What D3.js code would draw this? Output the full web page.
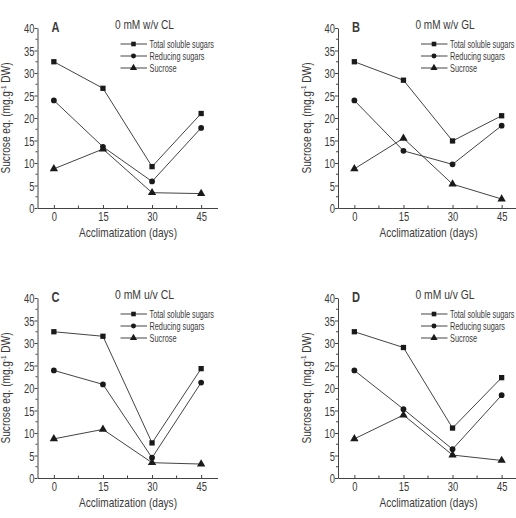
<!DOCTYPE html>
<html><head><meta charset="utf-8">
<script src="https://cdn.jsdelivr.net/npm/d3@7"></script>
<style>
body{margin:0;background:#fff;}
text{font-family:"Liberation Sans",Arial,sans-serif;fill:#3a3a3a;}
</style></head><body>
<svg id="c" width="516" height="518"></svg>
<script>
const days = [0, 15, 30, 45];
const seriesNames = ["Total soluble sugars", "Reducing sugars", "Sucrose"];
const panelLetters = ["A", "B", "C", "D"];
const panelTitles = ["0 mM w/v CL", "0 mM w/v GL", "0 mM u/v CL", "0 mM u/v GL"];
const totalSugars = [[32.5, 26.6, 9.2, 21.0], [32.5, 28.4, 14.9, 20.5], [32.5, 31.5, 7.8, 24.3], [32.5, 29.0, 11.1, 22.3]];
const reducingSugars = [[23.9, 13.6, 5.9, 17.8], [23.9, 12.7, 9.7, 18.3], [23.9, 20.8, 4.5, 21.2], [23.9, 15.3, 6.4, 18.4]];
const sucrose = [[8.7, 13.1, 3.4, 3.2], [8.7, 15.5, 5.3, 2.0], [8.7, 10.8, 3.4, 3.1], [8.7, 14.0, 5.1, 3.9]];
const yTicks = [0, 5, 10, 15, 20, 25, 30, 35, 40];
const xTicks = [0, 15, 30, 45];

const svg = d3.select("#c");
const origins = [[0, 0], [300.5, 0], [0, 270], [300.5, 270]];
const symbols = [d3.symbolSquare, d3.symbolCircle, d3.symbolTriangle];
const symSizes = [28, 26, 30];
const lineColor = "#444";
const legendWidths = [64.5, 55, 27];
const squeeze = 0.72;

origins.forEach(([ox, oy], p) => {
  const g = svg.append("g").attr("transform", `translate(${ox},${oy})`);
  const x = d3.scaleLinear().domain([-5, 50]).range([37.5, 217.5]);
  const y = d3.scaleLinear().domain([0, 40]).range([208, 28]);

  // y axis (outward ticks)
  const ya = g.append("g").attr("transform", `translate(${x(-5)},0)`)
    .call(d3.axisLeft(y).tickValues(yTicks).tickSize(3).tickSizeOuter(0));
  ya.select(".domain").attr("stroke", lineColor);
  ya.selectAll(".tick line").attr("stroke", lineColor);
  ya.selectAll(".tick text").attr("x", null).attr("dy", null)
    .attr("transform", `translate(-3,4.6) scale(${squeeze},1)`)
    .attr("font-size", 13).attr("font-family", "Liberation Sans").attr("fill", "#3a3a3a");
  g.append("g").selectAll("line").data(d3.range(2.5, 40, 5)).join("line")
    .attr("x1", x(-5)).attr("x2", x(-5) - 2).attr("y1", d => y(d)).attr("y2", d => y(d))
    .attr("stroke", lineColor);

  // x axis (inward ticks)
  const xa = g.append("g").attr("transform", `translate(0,${y(0)})`)
    .call(d3.axisBottom(x).tickValues(xTicks).tickSize(-3).tickSizeOuter(0));
  xa.select(".domain").attr("stroke", lineColor);
  xa.selectAll(".tick line").attr("stroke", lineColor);
  xa.selectAll(".tick text").attr("y", null).attr("dy", null)
    .attr("transform", `translate(0,13) scale(${squeeze},1)`)
    .attr("font-size", 13).attr("font-family", "Liberation Sans").attr("fill", "#3a3a3a");
  g.append("g").selectAll("line").data([7.5, 22.5, 37.5]).join("line")
    .attr("x1", d => x(d)).attr("x2", d => x(d)).attr("y1", y(0)).attr("y2", y(0) - 2.5)
    .attr("stroke", lineColor);

  // axis labels
  g.append("text").attr("x", 128 - 49).attr("y", 236.5)
    .attr("font-size", 13).attr("textLength", 98).attr("lengthAdjust", "spacingAndGlyphs")
    .text("Acclimatization (days)");
  const yl = g.append("text").attr("transform", `translate(10,${118 + 55.5}) rotate(-90)`)
    .attr("font-size", 12).attr("textLength", 111).attr("lengthAdjust", "spacingAndGlyphs");
  yl.append("tspan").text("Sucrose eq. (mg.g");
  yl.append("tspan").attr("dy", -4.5).attr("font-size", 7.5).text("-1");
  yl.append("tspan").attr("dy", 4.5).text(" DW)");

  // panel letter and title
  g.append("text").attr("x", 51.5).attr("y", 32).attr("font-size", 14).attr("font-weight", "bold")
    .attr("fill", "#222").attr("textLength", 8).attr("lengthAdjust", "spacingAndGlyphs").text(panelLetters[p]);
  g.append("text").attr("x", 115).attr("y", 29).attr("font-size", 13)
    .attr("textLength", 59).attr("lengthAdjust", "spacingAndGlyphs").text(panelTitles[p]);

  // series
  const data = [totalSugars[p], reducingSugars[p], sucrose[p]];
  const line = d3.line().x((d, i) => x(days[i])).y(d => y(d));
  data.forEach((vals, s) => {
    g.append("path").attr("d", line(vals)).attr("fill", "none").attr("stroke", lineColor).attr("stroke-width", 1);
    g.append("g").selectAll("path").data(vals).join("path")
      .attr("transform", (d, i) => `translate(${x(days[i])},${y(d)})`)
      .attr("d", d3.symbol().type(symbols[s]).size(symSizes[s])).attr("fill", "#1a1a1a");
  });

  // legend
  const lg = g.append("g");
  seriesNames.forEach((name, s) => {
    const ly = 44 + s * 12;
    lg.append("line").attr("x1", 120.5).attr("x2", 147).attr("y1", ly).attr("y2", ly).attr("stroke", lineColor);
    lg.append("path").attr("transform", `translate(133.5,${ly})`)
      .attr("d", d3.symbol().type(symbols[s]).size(symSizes[s] * 0.75)).attr("fill", "#1a1a1a");
    lg.append("text").attr("x", 149.5).attr("y", ly + 3.8).attr("font-size", 11)
      .attr("textLength", legendWidths[s]).attr("lengthAdjust", "spacingAndGlyphs").text(name);
  });
});
</script>
</body></html>
